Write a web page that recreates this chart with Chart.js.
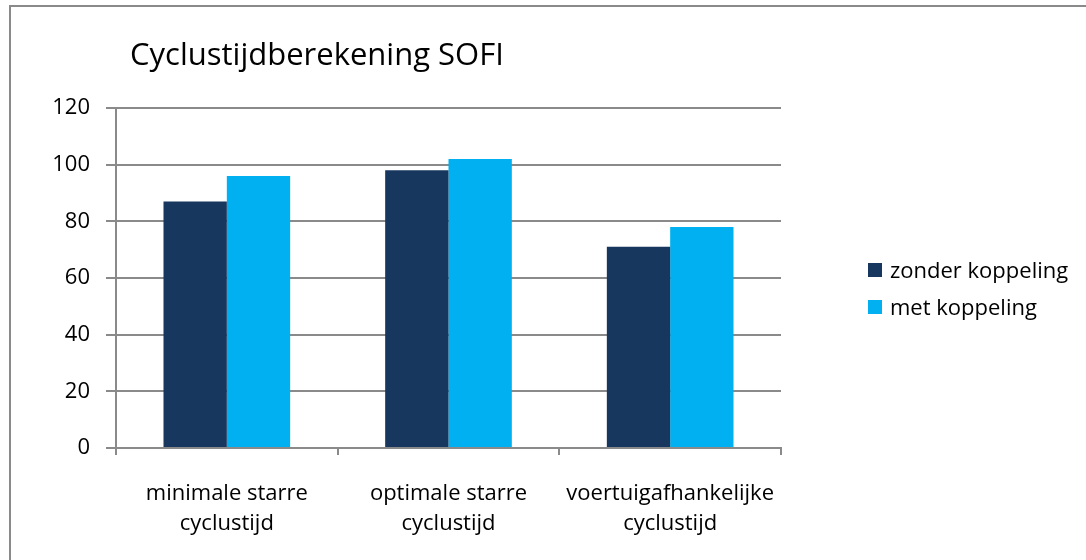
<!DOCTYPE html>
<html>
<head>
<meta charset="utf-8">
<script src="https://cdn.jsdelivr.net/npm/chart.js@4/dist/chart.umd.min.js"></script>
<style>
  html, body { margin: 0; padding: 0; background: #ffffff; }
  #wrap { position: relative; width: 1086px; height: 560px; overflow: hidden; background: #fff; }
  #frame { position: absolute; left: 9px; top: 5px; width: 1200px; height: 700px;
           border-left: 2px solid #8a8a8a; border-top: 2px solid #8a8a8a; box-sizing: border-box; }
  canvas { position: absolute; left: 0; top: 0; }
  #title { position: absolute; left: 130px; top: 32px; font-family: "Open Sans", sans-serif;
           font-size: 31px; color: #000; white-space: nowrap; line-height: normal; }
  .leg { position: absolute; left: 868px; font-family: "Open Sans", sans-serif; font-size: 22px;
         color: #000; white-space: nowrap; line-height: 30px; height: 30px; }
  .leg span.box { display: inline-block; width: 14px; height: 14px; vertical-align: middle;
                  margin-right: 8px; position: relative; top: -2px; }
</style>
</head>
<body>
<div id="wrap">
  <div id="frame"></div>
  <canvas id="c" width="1086" height="560"></canvas>
  <div id="title"></div>
  <div id="legend"></div>
</div>
<script>
const chartTitle = "Cyclustijdberekening SOFI";
const categories = [["minimale starre", "cyclustijd"], ["optimale starre", "cyclustijd"], ["voertuigafhankelijke", "cyclustijd"]];
const seriesNames = ["zonder koppeling", "met koppeling"];
const zonderKoppeling = [87, 98, 71];
const metKoppeling = [96, 102, 78];
const seriesColors = ["#17375E", "#00B0F0"];
const yMin = 0, yMax = 120, yStep = 20;

document.getElementById("title").textContent = chartTitle;
const legendEl = document.getElementById("legend");
const legendTops = [254, 291];
seriesNames.forEach((name, i) => {
  const d = document.createElement("div");
  d.className = "leg";
  d.style.top = legendTops[i] + "px";
  const b = document.createElement("span");
  b.className = "box";
  b.style.background = seriesColors[i];
  d.appendChild(b);
  d.appendChild(document.createTextNode(name));
  legendEl.appendChild(d);
});

const gridColor = "#8a8a8a";
const font = { family: "'Open Sans', sans-serif", size: 22 };

new Chart(document.getElementById("c"), {
  type: "bar",
  data: {
    labels: categories,
    datasets: [
      { label: seriesNames[0], data: zonderKoppeling, backgroundColor: seriesColors[0], borderWidth: 0,
        categoryPercentage: 0.5714, barPercentage: 1.0 },
      { label: seriesNames[1], data: metKoppeling, backgroundColor: seriesColors[1], borderWidth: 0,
        categoryPercentage: 0.5714, barPercentage: 1.0 }
    ]
  },
  options: {
    responsive: false,
    animation: false,
    devicePixelRatio: 1,
    layout: { padding: { left: 0, right: 305, top: 108, bottom: 0 } },
    plugins: { legend: { display: false }, title: { display: false }, tooltip: { enabled: false } },
    scales: {
      x: {
        grid: { display: true, drawOnChartArea: false, drawTicks: true, tickLength: 7,
                color: gridColor, lineWidth: 2, offset: true },
        border: { display: true, color: gridColor, width: 2 },
        ticks: { color: "#000", font: Object.assign({ lineHeight: 1.36 }, font), padding: 24, maxRotation: 0 },
        afterFit: (s) => { s.height = 112; }
      },
      y: {
        min: yMin, max: yMax,
        grid: { color: gridColor, lineWidth: 2, tickLength: 10, drawTicks: true },
        border: { display: true, color: gridColor, width: 2 },
        ticks: { stepSize: yStep, color: "#000", font: font, padding: 16 },
        afterFit: (s) => { s.width = 116; }
      }
    }
  }
});
</script>
</body>
</html>
